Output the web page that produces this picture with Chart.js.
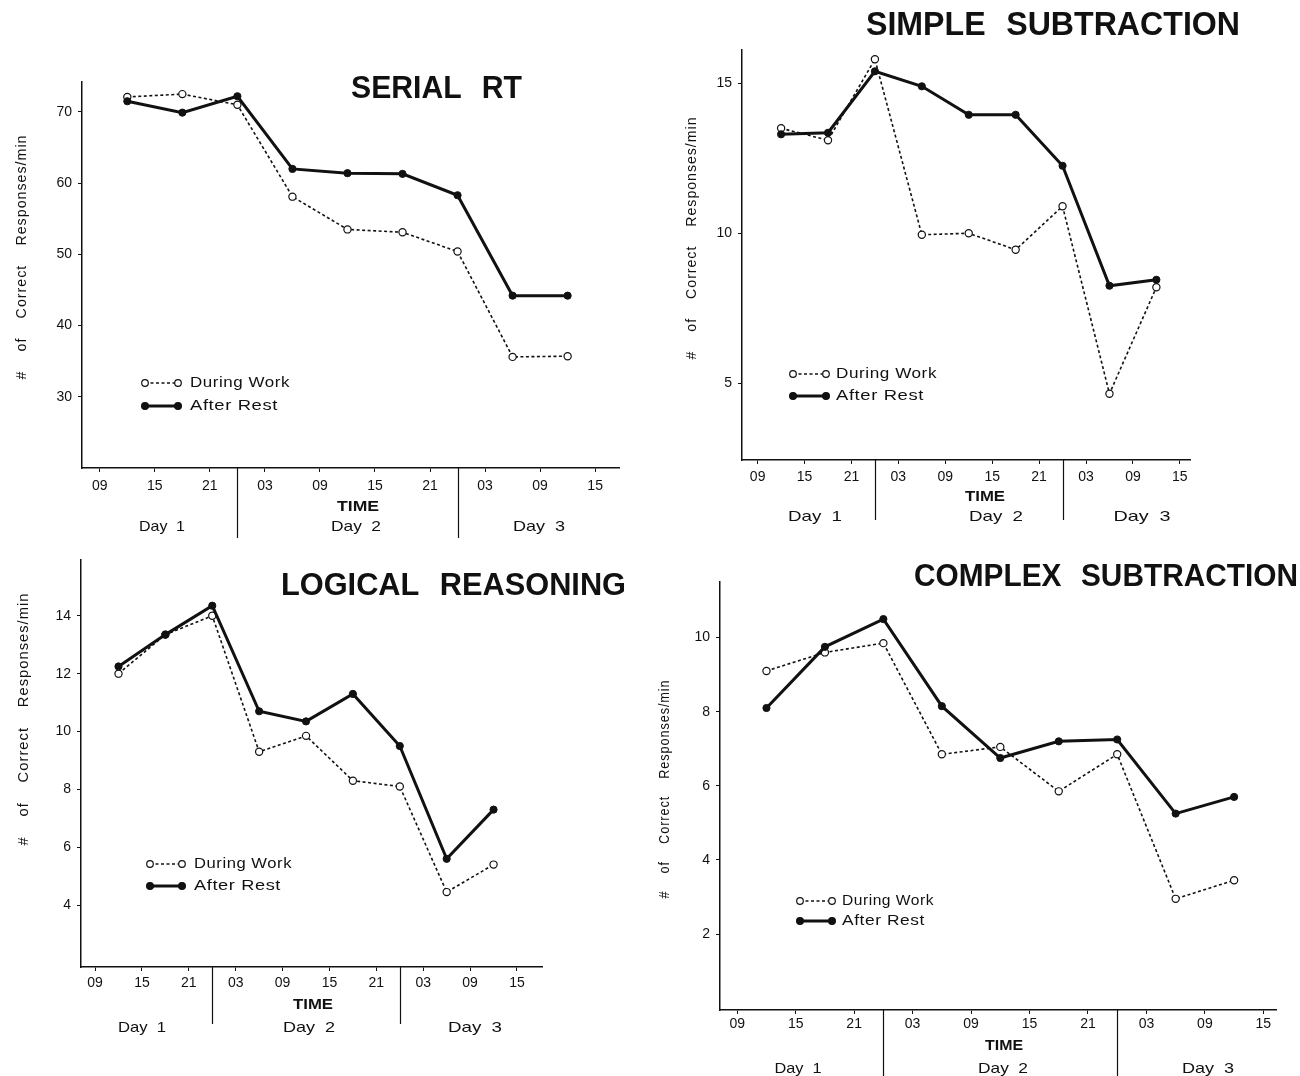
<!DOCTYPE html>
<html lang="en">
<head>
<meta charset="utf-8">
<title>Correct responses per minute during work and after rest</title>
<script src="https://cdn.jsdelivr.net/npm/chart.js@4.4.1/dist/chart.umd.min.js"></script>
<style>
  html, body { margin: 0; padding: 0; background: #ffffff; }
  #sheet { position: relative; width: 1300px; height: 1076px; overflow: hidden; background: #ffffff; }
  #sheet canvas { position: absolute; }
</style>
</head>
<body>
<div id="sheet">
  <canvas id="serialRt"></canvas>
  <canvas id="simpleSub"></canvas>
  <canvas id="logical"></canvas>
  <canvas id="complexSub"></canvas>
</div>
<script>
// ---- data ---------------------------------------------------------------
// Test sessions, in hours counted from midnight at the start of day 1
const sessionHours = [12, 18, 24, 30, 36, 42, 48, 54, 60];
// Clock-time ticks along the time axis
const timeTickHours  = [9, 15, 21, 27, 33, 39, 45, 51, 57, 63];
const timeTickLabels = ['09', '15', '21', '03', '09', '15', '21', '03', '09', '15'];
const dayBoundaryHours = [24, 48];
const dayLabels = ['Day 1', 'Day 2', 'Day 3'];
const seriesLabels = ['During Work', 'After Rest'];
const yAxisTitle = '# of Correct Responses/min';
const xAxisTitle = 'TIME';

// Correct responses per minute at each session
const serialRtWork  = [72.1, 72.5, 71.0, 58.1, 53.5, 53.1, 50.4, 35.6, 35.7];
const serialRtRest  = [71.5, 69.9, 72.2, 62.0, 61.4, 61.3, 58.3, 44.2, 44.2];
const serialRtTicks = [30, 40, 50, 60, 70];

const simpleSubWork  = [13.5, 13.1, 15.8, 9.95, 10.0, 9.45, 10.9, 4.65, 8.2];
const simpleSubRest  = [13.3, 13.35, 15.4, 14.9, 13.95, 13.95, 12.25, 8.25, 8.45];
const simpleSubTicks = [5, 10, 15];

const logicalWork  = [12.0, 13.35, 14.0, 9.3, 9.85, 8.3, 8.1, 4.45, 5.4];
const logicalRest  = [12.25, 13.35, 14.35, 10.7, 10.35, 11.3, 9.5, 5.6, 7.3];
const logicalTicks = [4, 6, 8, 10, 12, 14];

const complexSubWork  = [9.1, 9.6, 9.85, 6.85, 7.05, 5.85, 6.85, 2.95, 3.45];
const complexSubRest  = [8.1, 9.75, 10.5, 8.15, 6.75, 7.2, 7.25, 5.25, 5.7];
const complexSubTicks = [2, 4, 6, 8, 10];

// ---- page layout (page pixel coordinates) -------------------------------
const panels = [
  { canvas: 'serialRt', title: 'SERIAL RT', work: serialRtWork, rest: serialRtRest, yTicks: serialRtTicks,
    box: [0, 0, 650, 545], plot: [82, 82, 619, 468], xRange: [7.06, 65.6], yRange: [20, 74.2], tickPad: 6,
    titleAt: { x: 351, y: 89, w: 171, size: 31 },
    yTitleAt: { x: 22, y: 257, len: 245 },
    legend: { x1: 145, x2: 178, tx: 190, rows: [383, 406], widths: [100, 88] },
    timeAt: { x: 358, y: 507, w: 42 },
    days: { y: 527, x: [162, 356, 539], w: [46, 50, 52] }, sepBottom: 538 },
  { canvas: 'simpleSub', title: 'SIMPLE SUBTRACTION', work: simpleSubWork, rest: simpleSubRest, yTicks: simpleSubTicks,
    box: [650, 0, 650, 545], plot: [742, 50, 1190, 460], xRange: [7.0, 64.3], yRange: [2.44, 16.11], tickPad: 5,
    titleAt: { x: 866, y: 26, w: 374, size: 33 },
    yTitleAt: { x: 692, y: 238, len: 243 },
    legend: { x1: 793, x2: 826, tx: 836, rows: [374, 396], widths: [101, 88] },
    timeAt: { x: 985, y: 497, w: 40 },
    days: { y: 517, x: [815, 996, 1142], w: [54, 54, 57] }, sepBottom: 520 },
  { canvas: 'logical', title: 'LOGICAL REASONING', work: logicalWork, rest: logicalRest, yTicks: logicalTicks,
    box: [0, 545, 650, 531], plot: [81, 548, 542, 967], xRange: [7.2, 66.2], yRange: [1.86, 15.95], tickPad: 4,
    titleAt: { x: 281, y: 586, w: 345, size: 31 },
    yTitleAt: { x: 24, y: 719, len: 253 },
    legend: { x1: 150, x2: 182, tx: 194, rows: [864, 886], widths: [98, 87] },
    timeAt: { x: 313, y: 1005, w: 40 },
    days: { y: 1028, x: [142, 309, 475], w: [48, 52, 54] }, sepBottom: 1024 },
  { canvas: 'complexSub', title: 'COMPLEX SUBTRACTION', work: complexSubWork, rest: complexSubRest, yTicks: complexSubTicks,
    box: [650, 545, 650, 531], plot: [720, 582, 1276, 1010], xRange: [7.23, 64.3], yRange: [-0.05, 11.5], tickPad: 2,
    titleAt: { x: 914, y: 577, w: 384, size: 32 },
    yTitleAt: { x: 665, y: 789, len: 219 },
    legend: { x1: 800, x2: 832, tx: 842, rows: [901, 921], widths: [92, 83] },
    timeAt: { x: 1004, y: 1046, w: 38 },
    days: { y: 1069, x: [798, 1003, 1208], w: [47, 50, 52] }, sepBottom: 1076 }
];

const INK = '#111111';
const SANS = '"Liberation Sans", Arial, Helvetica, sans-serif';
Chart.defaults.font.family = SANS;
Chart.defaults.color = INK;

// Draws a string stretched or squeezed to an exact width.
function fitText(ctx, text, x, y, width, font, opts = {}) {
  ctx.save();
  ctx.font = font;
  if (opts.word != null && 'wordSpacing' in ctx) ctx.wordSpacing = opts.word + 'px';
  if (opts.letter != null && 'letterSpacing' in ctx) ctx.letterSpacing = opts.letter + 'px';
  ctx.fillStyle = INK;
  ctx.textBaseline = 'middle';
  ctx.textAlign = 'left';
  const natural = ctx.measureText(text).width;
  ctx.translate(x, y);
  if (opts.angle) ctx.rotate(opts.angle);
  ctx.scale(width / natural, 1);
  ctx.fillText(text, opts.align === 'center' ? -natural / 2 : 0, 0);
  ctx.restore();
}

// Legend sample: open circles on a dashed line, or dots on a heavy line.
function legendSample(ctx, x1, x2, y, solid) {
  ctx.save();
  ctx.strokeStyle = INK;
  ctx.lineWidth = solid ? 3 : 1.6;
  ctx.setLineDash(solid ? [] : [3, 2.5]);
  ctx.beginPath(); ctx.moveTo(x1, y); ctx.lineTo(x2, y); ctx.stroke();
  ctx.setLineDash([]);
  ctx.lineWidth = 1.2;
  [x1, x2].forEach(x => {
    ctx.beginPath();
    ctx.arc(x, y, solid ? 3.4 : 3.3, 0, Math.PI * 2);
    ctx.fillStyle = solid ? INK : '#ffffff';
    ctx.fill();
    ctx.stroke();
  });
  ctx.restore();
}

// Title, legend, axis titles and day bands of one panel.
const panelDecor = {
  id: 'panelDecor',
  afterDraw(chart, args, opts) {
    const p = opts.panel;
    const ctx = chart.ctx;
    const ox = p.box[0], oy = p.box[1];
    const xs = chart.scales.x;
    ctx.save();
    ctx.translate(-ox, -oy);

    // day boundaries below the time axis
    ctx.strokeStyle = INK;
    ctx.lineWidth = 1.2;
    dayBoundaryHours.forEach(h => {
      const x = Math.round(xs.getPixelForValue(h) + ox) + 0.5;
      ctx.beginPath();
      ctx.moveTo(x, p.plot[3]);
      ctx.lineTo(x, p.sepBottom);
      ctx.stroke();
    });

    // time axis title and day names
    fitText(ctx, xAxisTitle, p.timeAt.x, p.timeAt.y, p.timeAt.w, 'bold 14px ' + SANS, { align: 'center' });
    dayLabels.forEach((d, i) => {
      fitText(ctx, d, p.days.x[i], p.days.y, p.days.w[i], '15px ' + SANS, { align: 'center', word: 4 });
    });

    // vertical axis title
    fitText(ctx, yAxisTitle, p.yTitleAt.x, p.yTitleAt.y, p.yTitleAt.len, '14px ' + SANS,
      { align: 'center', angle: -Math.PI / 2, word: 14, letter: 1 });

    // panel title
    fitText(ctx, p.title, p.titleAt.x, p.titleAt.y, p.titleAt.w, 'bold ' + p.titleAt.size + 'px ' + SANS,
      { word: 12 });

    // legend
    const lg = p.legend;
    seriesLabels.forEach((name, i) => {
      legendSample(ctx, lg.x1, lg.x2, lg.rows[i], i === 1);
      fitText(ctx, name, lg.tx, lg.rows[i], lg.widths[i], '15px ' + SANS, { letter: 0.5 });
    });
    ctx.restore();
  }
};

function buildPanel(p) {
  const el = document.getElementById(p.canvas);
  const [bx, by, bw, bh] = p.box;
  const [left, top, right, bottom] = p.plot;
  const xAxisHeight = 30;
  el.width = bw; el.height = bh;
  el.style.left = bx + 'px'; el.style.top = by + 'px';
  el.style.width = bw + 'px'; el.style.height = bh + 'px';

  const toPoints = vals => sessionHours.map((h, i) => ({ x: h, y: vals[i] }));
  const axisGrid = { display: true, drawOnChartArea: false, drawTicks: true, tickLength: 4, color: INK, lineWidth: 1 };
  const axisBorder = { display: true, color: INK, width: 1.5 };
  const tickFont = { family: SANS, size: 14 };

  return new Chart(el, {
    type: 'line',
    data: {
      datasets: [
        { label: seriesLabels[0], data: toPoints(p.work), order: 2,
          borderColor: INK, borderWidth: 1.6, borderDash: [3, 2.5], tension: 0,
          pointRadius: 3.6, pointBackgroundColor: '#ffffff', pointBorderColor: INK, pointBorderWidth: 1.2 },
        { label: seriesLabels[1], data: toPoints(p.rest), order: 1,
          borderColor: INK, borderWidth: 3, tension: 0,
          pointRadius: 3.6, pointBackgroundColor: INK, pointBorderColor: INK, pointBorderWidth: 1 }
      ]
    },
    options: {
      responsive: false,
      animation: false,
      devicePixelRatio: 1,
      layout: { padding: { left: 0, top: top - by, right: bx + bw - right, bottom: by + bh - bottom - xAxisHeight } },
      plugins: { legend: { display: false }, tooltip: { enabled: false }, panelDecor: { panel: p } },
      scales: {
        x: {
          type: 'linear', min: p.xRange[0], max: p.xRange[1],
          afterBuildTicks: s => { s.ticks = timeTickHours.map(v => ({ value: v })); },
          afterFit: s => { s.height = xAxisHeight; },
          ticks: { autoSkip: false, maxRotation: 0, minRotation: 0, padding: p.tickPad, color: INK, font: tickFont,
                   callback: (v, i) => timeTickLabels[i] },
          grid: axisGrid, border: axisBorder
        },
        y: {
          type: 'linear', min: p.yRange[0], max: p.yRange[1],
          afterBuildTicks: s => { s.ticks = p.yTicks.map(v => ({ value: v })); },
          afterFit: s => { s.width = left - bx; },
          ticks: { autoSkip: false, padding: 6, color: INK, font: tickFont, callback: v => String(v) },
          grid: axisGrid, border: axisBorder
        }
      }
    },
    plugins: [panelDecor]
  });
}

panels.forEach(buildPanel);
</script>
</body>
</html>
